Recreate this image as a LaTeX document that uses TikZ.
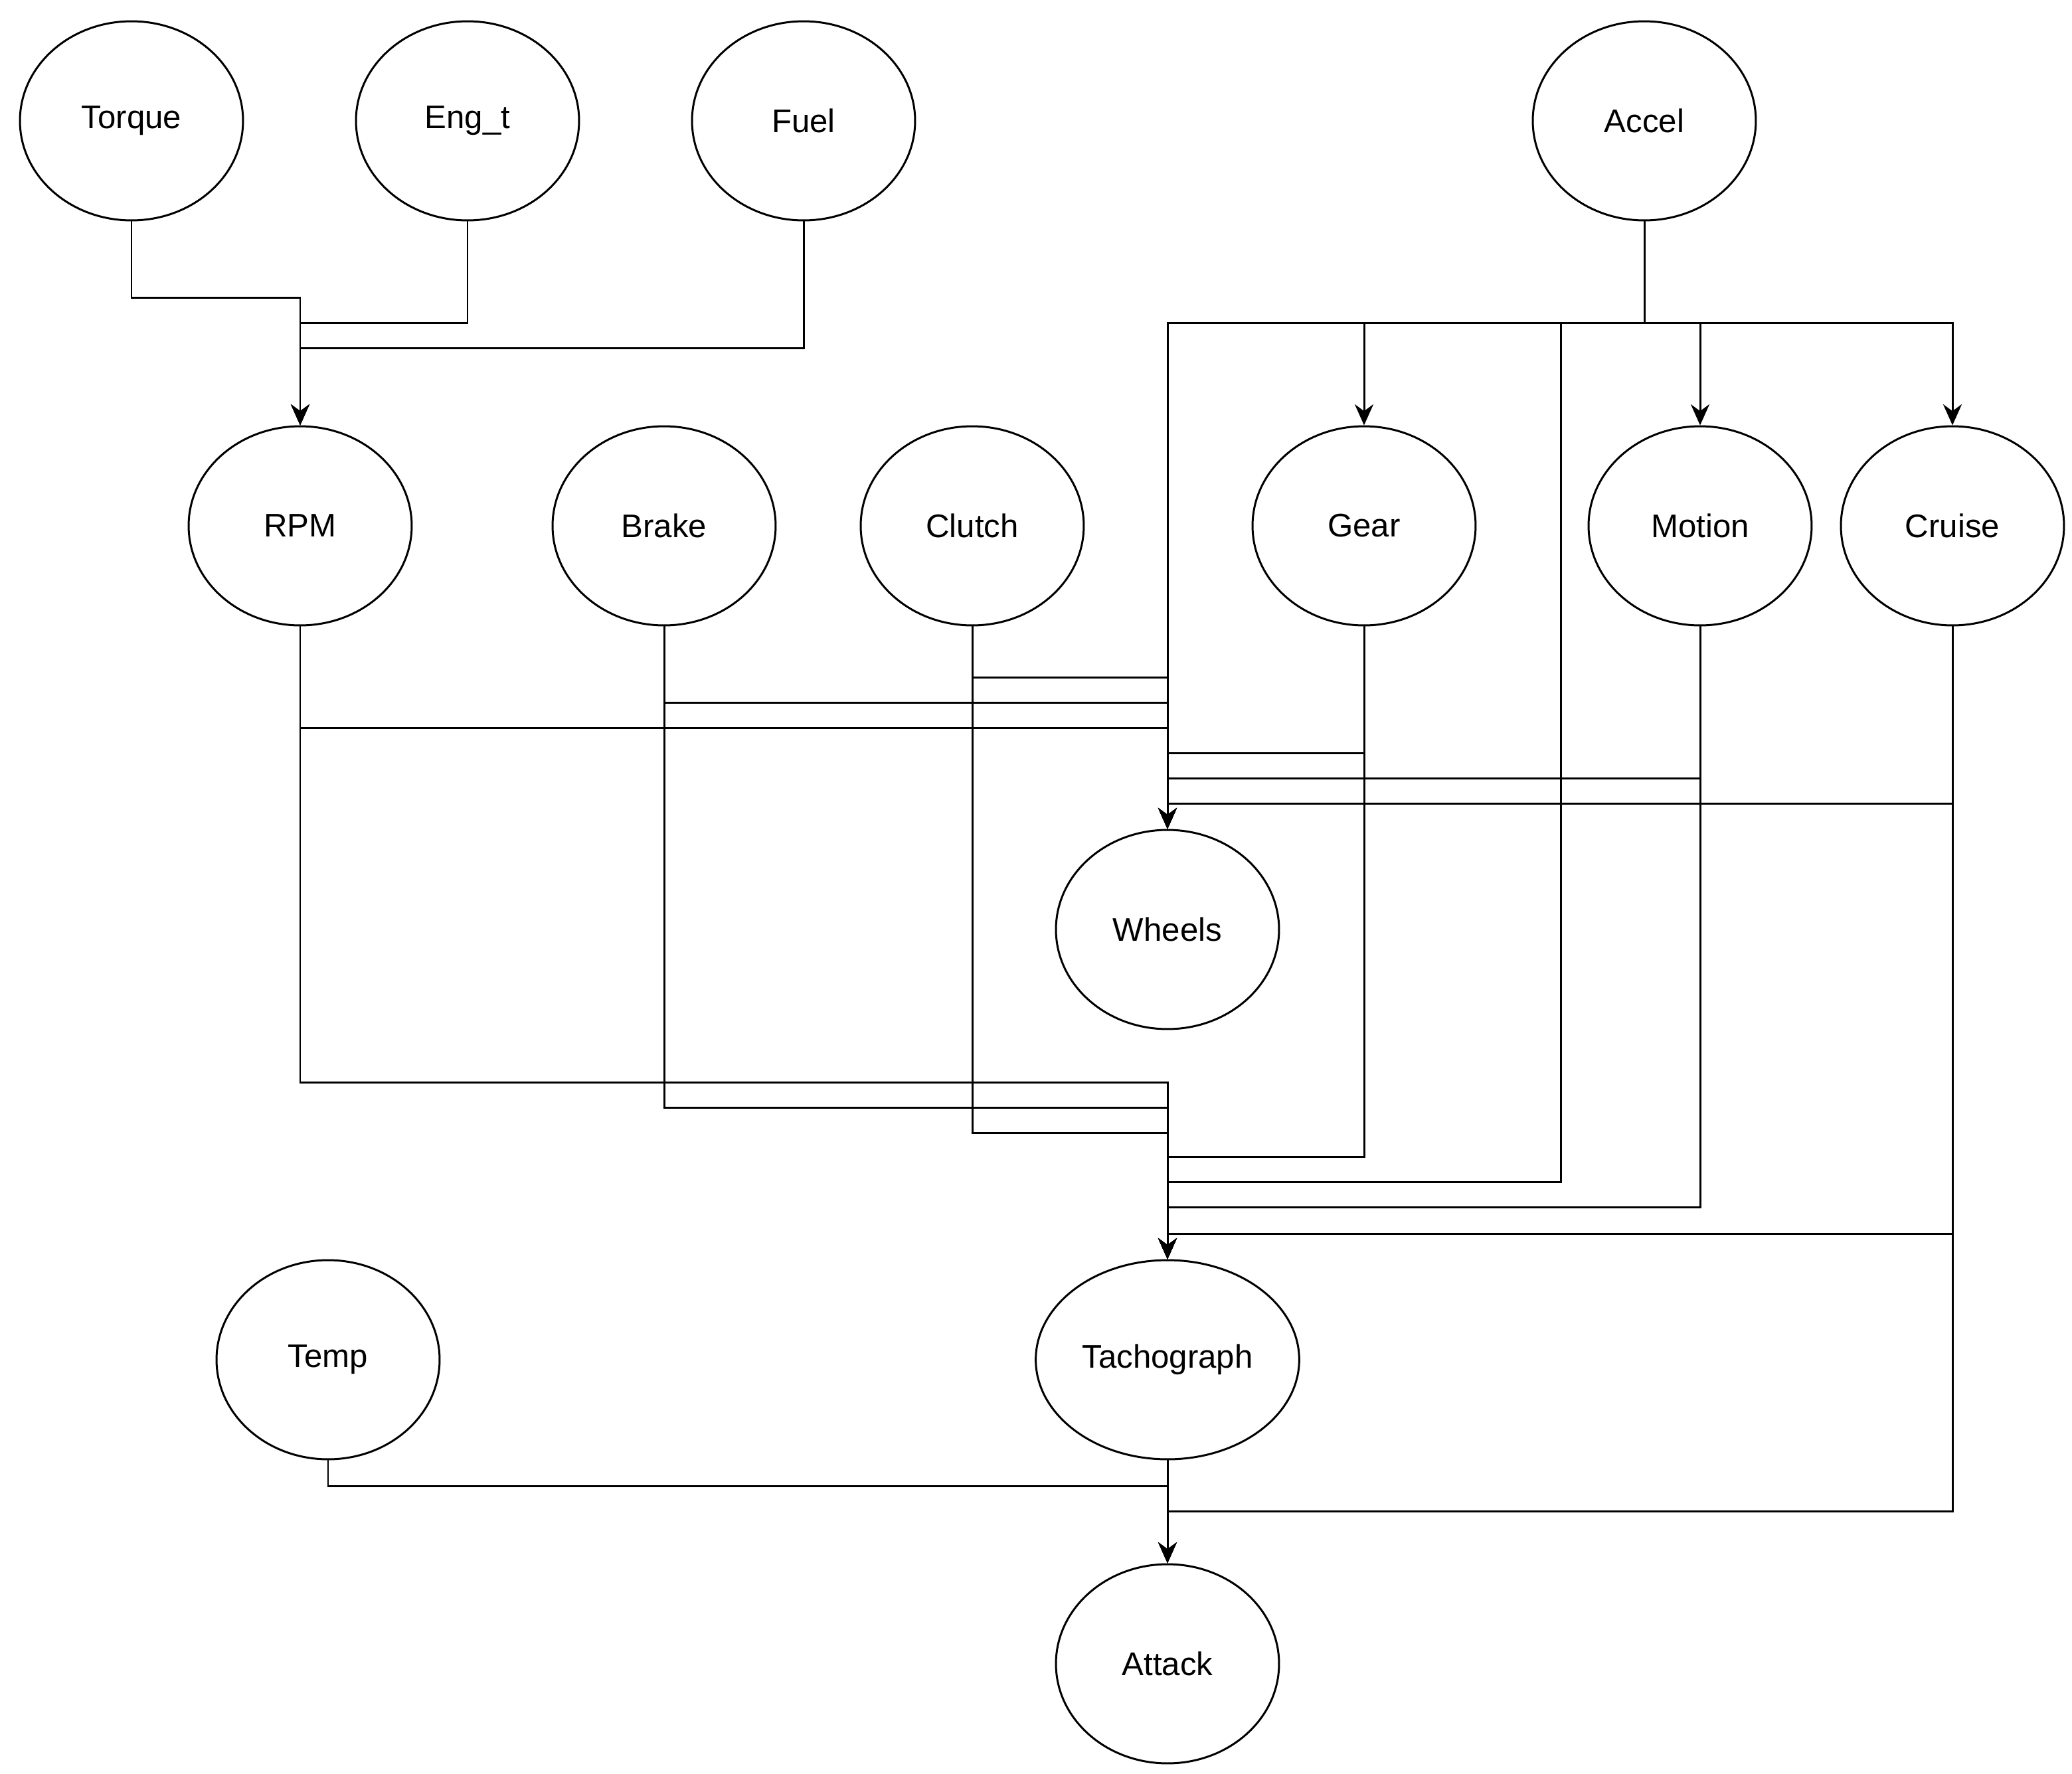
\documentclass[tikz,border=0pt]{standalone}
\usepackage{fontspec}
\setmainfont{Liberation Sans}
\usetikzlibrary{shapes.geometric,arrows.meta}
\begin{document}
\begin{tikzpicture}[x=0.02cm,y=-0.02cm,
  n/.style={ellipse,draw,line width=0.85pt,minimum width=3.36cm,minimum height=3cm,font=\fontsize{14}{16}\selectfont},
  e/.style={line width=0.85pt},
  a/.style={line width=0.85pt,-{Stealth[length=9pt,width=8pt]}}]
\useasboundingbox (0,0) rectangle (1560,1336);
\node[n] (Torque) at (99,91) {Torque};
\node[n] (Eng) at (352,91) {Eng\_t};
\node[n] (Fuel) at (605,91) {Fuel};
\node[n] (Accel) at (1238,91) {Accel};
\node[n] (RPM) at (226,396) {RPM};
\node[n] (Brake) at (500,396) {Brake};
\node[n] (Clutch) at (732,396) {Clutch};
\node[n] (Gear) at (1027,396) {Gear};
\node[n] (Motion) at (1280,396) {Motion};
\node[n] (Cruise) at (1470,396) {Cruise};
\node[n] (Wheels) at (879,700) {Wheels};
\node[n] (Temp) at (247,1024) {Temp};
\node[n] (Tacho) at (879,1024) {Tachograph};
\node[n] (Attack) at (879,1253) {Attack};
% to RPM
\draw[a] (Torque.south) |- (226,224) -- (RPM.north);
\draw[a] (Eng.south) |- (226,243) -- (RPM.north);
\draw[a] (Fuel.south) |- (226,262) -- (RPM.north);
% from Accel
\draw[a] (Accel.south) |- (879,243) -- (Wheels.north);
\draw[a] (Accel.south) |- (1027,243) -- (Gear.north);
\draw[a] (Accel.south) |- (1280,243) -- (Motion.north);
\draw[a] (Accel.south) |- (1470,243) -- (Cruise.north);
\draw[a] (Accel.south) |- (1175,243) |- (879,890) -- (Tacho.north);
% to Wheels
\draw[a] (RPM.south) |- (879,548) -- (Wheels.north);
\draw[a] (Brake.south) |- (879,529) -- (Wheels.north);
\draw[a] (Clutch.south) |- (879,510) -- (Wheels.north);
\draw[a] (Gear.south) |- (879,567) -- (Wheels.north);
\draw[a] (Motion.south) |- (879,586) -- (Wheels.north);
\draw[a] (Cruise.south) |- (879,605) -- (Wheels.north);
% to Tachograph
\draw[a] (RPM.south) |- (879,815) -- (Tacho.north);
\draw[a] (Brake.south) |- (879,834) -- (Tacho.north);
\draw[a] (Clutch.south) |- (879,853) -- (Tacho.north);
\draw[a] (Gear.south) |- (879,871) -- (Tacho.north);
\draw[a] (Motion.south) |- (879,909) -- (Tacho.north);
\draw[a] (Cruise.south) |- (879,929) -- (Tacho.north);
% to Attack
\draw[a] (Cruise.south) |- (879,1138) -- (Attack.north);
\draw[a] (Temp.south) |- (879,1119) -- (Attack.north);
\draw[a] (Tacho.south) -- (Attack.north);
\end{tikzpicture}
\end{document}
